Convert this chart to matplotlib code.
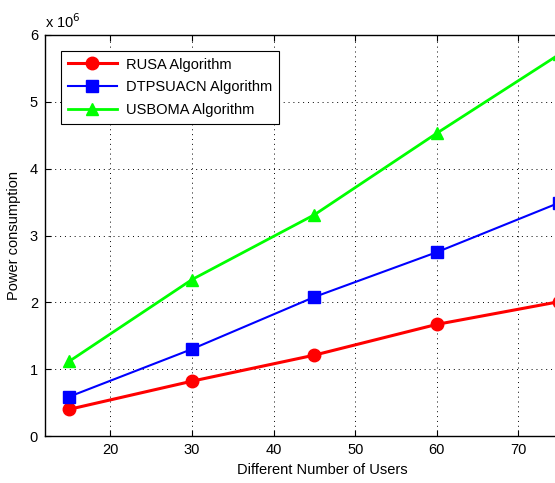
import numpy as np
import matplotlib
matplotlib.use("Agg")
import matplotlib.pyplot as plt

plt.rcParams['font.family'] = ['Liberation Sans', 'DejaVu Sans']

users = [15, 30, 45, 60, 75]
rusa = [0.40, 0.82, 1.21, 1.67, 2.01]       # x 10^6
dtpsuacn = [0.59, 1.30, 2.08, 2.75, 3.49]
usboma = [1.12, 2.34, 3.31, 4.53, 5.71]

fig = plt.figure(figsize=(5.55, 4.83), dpi=100)
W, H = 555, 483
# axes runs past the right edge of the picture (cropped like the original)
ax = fig.add_axes([45 / W, (H - 436) / H, (600 - 45) / W, (436 - 35) / H])

ax.plot(users, rusa, color='red', lw=2.2, marker='o', ms=9, label='RUSA Algorithm')
ax.plot(users, dtpsuacn, color='blue', lw=1.5, marker='s', ms=8, label='DTPSUACN Algorithm')
ax.plot(users, usboma, color=(0, 1, 0), lw=2, marker='^', ms=9, label='USBOMA Algorithm')

ax.set_xlim(12, 80)
ax.set_ylim(0, 6)
ax.set_xticks([20, 30, 40, 50, 60, 70])
ax.set_yticks([0, 1, 2, 3, 4, 5, 6])
ax.grid(True, color='black', linestyle=(0, (1, 4)), linewidth=0.7)
ax.tick_params(direction='in', length=4, top=True, right=True, labelsize=10.5, pad=5)
for s in ax.spines.values():
    s.set_linewidth(1)

ax.set_xlabel('Different Number of Users', fontsize=10.5, labelpad=4)
ax.set_ylabel('Power consumption', fontsize=10.5, labelpad=6)
ax.text(0, 1.01, r'x 10$^{6}$', transform=ax.transAxes, fontsize=10.5, va='bottom', ha='left')

leg = ax.legend(loc='upper left', bbox_to_anchor=(16 / 555, 1 - 16 / 401), borderaxespad=0,
                fontsize=10.5, handlelength=3.4, fancybox=False, framealpha=1,
                edgecolor='black', borderpad=0.45, labelspacing=0.6, handletextpad=0.6)
leg.get_frame().set_linewidth(0.8)

fig.savefig('out.png', dpi=100)
